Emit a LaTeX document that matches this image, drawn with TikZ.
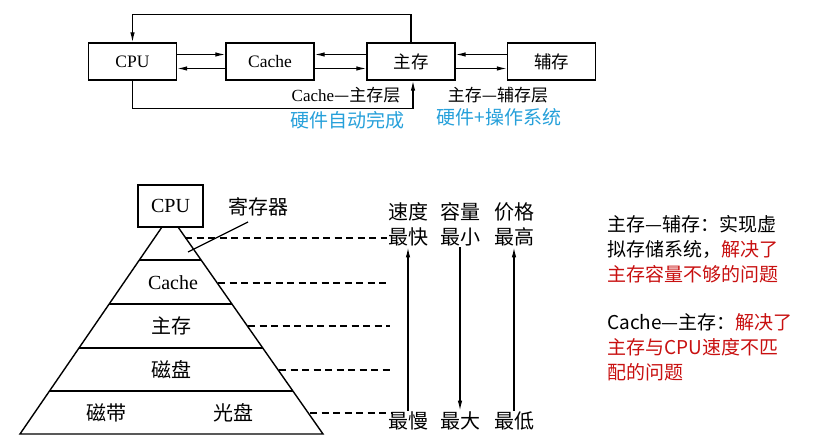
\documentclass[tikz,border=0pt]{standalone}
\usepackage{fontspec}
\setmainfont{Liberation Serif}
\newfontfamily\cjk{Noto Sans CJK SC}
\usetikzlibrary{arrows.meta}
\definecolor{hwblue}{RGB}{38,160,218}
\definecolor{notered}{RGB}{200,16,16}
\begin{document}
\begin{tikzpicture}[x=1pt,y=-1pt,
  box/.style={draw,line width=1.4pt,minimum width=88pt,minimum height=37pt,inner sep=0pt,font=\fontsize{17.5}{20}\selectfont},
  pbox/.style={draw,line width=1.4pt,minimum width=65pt,minimum height=42pt,inner sep=0pt,font=\fontsize{20}{24}\selectfont},
  arr/.style={line width=1.2pt,-{Latex[length=10pt,width=4.5pt]}},
  lbl/.style={inner sep=0pt,font=\fontsize{17}{20}\selectfont},
  blu/.style={inner sep=0pt,text=hwblue,font=\cjk\fontsize{19}{22}\selectfont},
  plbl/.style={inner sep=0pt,font=\cjk\fontsize{20}{24}\selectfont},
  col/.style={inner sep=1pt,align=center,font=\cjk\fontsize{20}{25}\selectfont},
  pline/.style={line width=1.4pt},
  dline/.style={line width=1.2pt,dash pattern=on 7pt off 4.5pt},
  note/.style={inner sep=0pt,anchor=north west,align=left,font=\cjk\fontsize{19}{25}\selectfont}]
\useasboundingbox (0,0) rectangle (833,443);
% ---------- top diagram ----------
\node[box] (cpu) at (132.5,61.5) {CPU};
\node[box] (cache) at (270,61.5) {Cache};
\node[box] (mm) at (411,61.5) {\cjk 主存};
\node[box] (aux) at (551.5,61.5) {\cjk 辅存};
\draw[arr] ([yshift=7pt]cpu.east) -- ([yshift=7pt]cache.west);
\draw[arr] ([yshift=-7pt]cache.west) -- ([yshift=-7pt]cpu.east);
\draw[arr] ([yshift=7pt]mm.west) -- ([yshift=7pt]cache.east);
\draw[arr] ([yshift=-7pt]cache.east) -- ([yshift=-7pt]mm.west);
\draw[arr] ([yshift=7pt]aux.west) -- ([yshift=7pt]mm.east);
\draw[arr] ([yshift=-7pt]mm.east) -- ([yshift=-7pt]aux.west);
\draw[arr] (mm.north) -- ++(0,28pt) -| (cpu.north);
\draw[arr] (cpu.south) -- ++(0,-28pt) -| ([xshift=2pt]mm.south);
\node[lbl] (l1) at (346,95) {Cache{\cjk —主存层}};
\node[lbl] (l2) at (498,95) {\cjk 主存—辅存层};
\node[blu] (b1) at (347,120) {硬件自动完成};
\node[blu] (b2) at (499,117) {硬件+操作系统};
% ---------- pyramid ----------
\node[pbox] (pcpu) at (170.5,206) {CPU};
\draw[pline] (162,227) -- (20,434) -- (323,434) -- (178,227);
\draw[pline] (139.4,260) -- (201.1,260);
\draw[pline] (109.2,304) -- (231.9,304);
\draw[pline] (79.0,348) -- (262.8,348);
\draw[pline] (49.5,391) -- (292.9,391);
\node[plbl] (reg) at (258,207) {寄存器};
\coordinate (regp) at (188,252);
\draw[line width=1.2pt] (248,222) -- (regp);
\node[plbl] (pcache) at (173,283) {\rmfamily Cache};
\node[plbl] (pmm) at (171,326) {主存};
\node[plbl] (pdisk) at (171,370) {磁盘};
\node[plbl] (ptape) at (106,413) {磁带};
\node[plbl] (pcd) at (233,413) {光盘};
\draw[dline] (185,238) -- (387,238);
\draw[dline] (218,283) -- (390,283);
\draw[dline] (248,326) -- (390,326);
\draw[dline] (279,370) -- (390,370);
\draw[dline] (310,413) -- (392,413);
% columns
\node[col] (sT) at (408,224.5) {速度\\最快};
\node[col] (cT) at (460,224.5) {容量\\最小};
\node[col] (pT) at (514,224.5) {价格\\最高};
\node[col] (sB) at (408,421) {最慢};
\node[col] (cB) at (460,421) {最大};
\node[col] (pB) at (514,421) {最低};
\draw[arr] (sB.north) -- (sT.south);
\draw[arr] (cT.south) -- (cB.north);
\draw[arr] (pB.north) -- (pT.south);
% ---------- notes ----------
\node[note] (n1) at (607,215) {主存—辅存：实现虚\\拟存储系统，\textcolor{notered}{解决了}\\\textcolor{notered}{主存容量不够的问题}};
\node[note] (n2) at (607,313) {Cache—主存：\textcolor{notered}{解决了}\\\textcolor{notered}{主存与CPU速度不匹}\\\textcolor{notered}{配的问题}};
\end{tikzpicture}
\end{document}
